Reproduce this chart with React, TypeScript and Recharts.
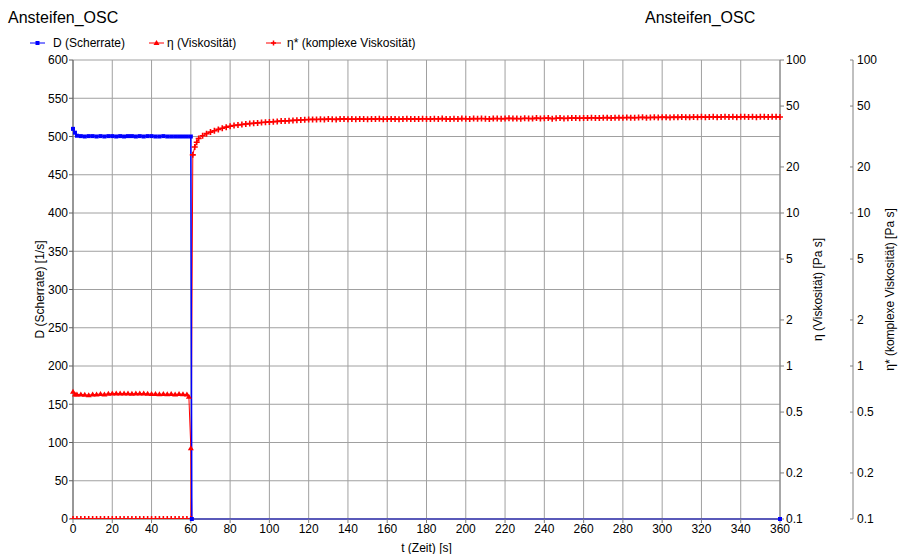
import { ComposedChart, Line, XAxis, YAxis, CartesianGrid } from 'recharts';

const FONT = '"Liberation Sans", Arial, sans-serif';

// D (Scherrate) [1/s]
const scherrateTime = [
  0, 1, 2, 4, 6, 8, 10, 12, 14, 16,
  18, 20, 22, 24, 26, 28, 30, 32, 34, 36,
  38, 40, 42, 44, 46, 48, 50, 52, 54, 56,
  58, 60, 60.5, 360,
];
const scherrate = [
  510, 505, 501, 500.5, 500, 500.5, 500.5, 500, 500.5, 500,
  500.5, 500.5, 500, 500.5, 500, 500.5, 500.5, 500, 500.5, 500,
  500.5, 500.5, 500, 500, 500.5, 500, 500, 500, 500, 500,
  500, 500, 0, 0,
];

// η (Viskosität) [Pa s]
const viskTime = [
  0, 1, 2, 4, 6, 8, 10, 12, 14, 16,
  18, 20, 22, 24, 26, 28, 30, 32, 34, 36,
  38, 40, 42, 44, 46, 48, 50, 52, 54, 56,
  58, 59, 60, 60.5,
];
const visk = [
  0.68, 0.65, 0.65, 0.652, 0.648, 0.645, 0.65, 0.652, 0.655, 0.652,
  0.658, 0.66, 0.662, 0.66, 0.662, 0.66, 0.658, 0.66, 0.662, 0.66,
  0.658, 0.655, 0.655, 0.653, 0.655, 0.653, 0.655, 0.652, 0.655, 0.653,
  0.65, 0.63, 0.29, 0.1,
];

// η* (komplexe Viskosität) [Pa s]
const komplexTime = [
  0, 2, 4, 6, 8, 10, 12, 14, 16, 18,
  20, 22, 24, 26, 28, 30, 32, 34, 36, 38,
  40, 42, 44, 46, 48, 50, 52, 54, 56, 58,
  60, 61, 62, 63, 64,
  66, 68, 70, 72, 74, 76, 78, 80, 82, 84,
  86, 88, 90, 92, 94, 96, 98, 100, 102, 104,
  106, 108, 110, 112, 114, 116, 118, 120, 122, 124,
  126, 128, 130, 132, 134, 136, 138, 140, 142, 144,
  146, 148, 150, 152, 154, 156, 158, 160, 162, 164,
  166, 168, 170, 172, 174, 176, 178, 180, 182, 184,
  186, 188, 190, 192, 194, 196, 198, 200, 202, 204,
  206, 208, 210, 212, 214, 216, 218, 220, 222, 224,
  226, 228, 230, 232, 234, 236, 238, 240, 242, 244,
  246, 248, 250, 252, 254, 256, 258, 260, 262, 264,
  266, 268, 270, 272, 274, 276, 278, 280, 282, 284,
  286, 288, 290, 292, 294, 296, 298, 300, 302, 304,
  306, 308, 310, 312, 314, 316, 318, 320, 322, 324,
  326, 328, 330, 332, 334, 336, 338, 340, 342, 344,
  346, 348, 350, 352, 354, 356, 358, 360,
];
const komplex = [
  0.1, 0.1, 0.1, 0.1, 0.1, 0.1, 0.1, 0.1, 0.1, 0.1,
  0.1, 0.1, 0.1, 0.1, 0.1, 0.1, 0.1, 0.1, 0.1, 0.1,
  0.1, 0.1, 0.1, 0.1, 0.1, 0.1, 0.1, 0.1, 0.1, 0.1,
  0.1, 24, 27, 29, 30.7,
  32.0, 33.0, 33.8, 34.5, 35.2, 35.8, 36.4, 36.9, 37.3, 37.6,
  37.9, 38.2, 38.4, 38.6, 38.8, 39.0, 39.2, 39.4, 39.5, 39.7,
  39.9, 40.0, 40.1, 40.3, 40.4, 40.5, 40.7, 40.8, 40.9, 40.8,
  41.0, 40.9, 41.1, 41.0, 40.9, 41.1, 41.2, 41.0, 41.1, 41.0,
  41.2, 41.1, 41.0, 41.2, 41.1, 41.3, 41.0, 41.1, 41.2, 41.1,
  41.0, 41.2, 41.3, 41.1, 41.2, 41.1, 41.3, 41.2, 41.1, 41.3,
  41.2, 41.4, 41.2, 41.1, 41.3, 41.2, 41.4, 41.3, 41.2, 41.4,
  41.3, 41.5, 41.3, 41.2, 41.4, 41.5, 41.3, 41.4, 41.6, 41.4,
  41.5, 41.3, 41.6, 41.5, 41.4, 41.7, 41.5, 41.6, 41.8, 41.3,
  41.6, 41.7, 41.5, 41.6, 41.8, 41.7, 41.6, 41.8, 41.7, 41.9,
  41.8, 41.7, 41.9, 42.0, 41.8, 41.9, 42.0, 41.9, 42.1, 42.0,
  41.9, 42.1, 42.2, 42.0, 42.1, 42.2, 42.1, 42.3, 42.2, 42.1,
  42.3, 42.2, 42.4, 42.3, 42.2, 42.4, 42.3, 42.5, 42.3, 42.4,
  42.5, 42.3, 42.4, 42.6, 42.4, 42.5, 42.3, 42.5, 42.6, 42.4,
  42.5, 42.3, 42.6, 42.5, 42.4, 42.6, 42.5, 42.4,
];

const timeTicks = [0, 20, 40, 60, 80, 100, 120, 140, 160, 180, 200, 220, 240, 260, 280, 300, 320, 340, 360];
const rateTicks = [0, 50, 100, 150, 200, 250, 300, 350, 400, 450, 500, 550, 600];
const logTicks = [0.1, 0.2, 0.5, 1, 2, 5, 10, 20, 50, 100];

const scherrateData = scherrateTime.map((t, i) => ({ t, v: scherrate[i] }));
const viskData = viskTime.map((t, i) => ({ t, v: visk[i] }));
const komplexData = komplexTime.map((t, i) => ({ t, v: komplex[i] }));

const BLUE = '#0000ff';
const RED = '#ff0000';
const AXIS = '#808080';
const tickStyle = { fill: '#000', fontSize: 12, fontFamily: FONT };

const SquareDot = (props: any) => {
  const { cx, cy, index } = props;
  if (cx == null || cy == null) return <g key={`s${index}`} />;
  return <rect key={`s${index}`} x={cx - 2} y={cy - 2} width={4} height={4} fill={BLUE} />;
};

const TriangleDot = (props: any) => {
  const { cx, cy, index } = props;
  if (cx == null || cy == null) return <g key={`t${index}`} />;
  return (
    <polygon
      key={`t${index}`}
      points={`${cx},${cy - 3} ${cx - 3},${cy + 2} ${cx + 3},${cy + 2}`}
      fill={RED}
    />
  );
};

const PlusDot = (props: any) => {
  const { cx, cy, index } = props;
  if (cx == null || cy == null) return <g key={`p${index}`} />;
  return (
    <path
      key={`p${index}`}
      d={`M${cx - 3},${cy}H${cx + 3}M${cx},${cy - 3}V${cy + 3}`}
      stroke={RED}
      strokeWidth={1.6}
    />
  );
};

// third axis: tick mark on the left of the axis line, label on the right
const LeftTick = (props: any) => {
  const { x, y, payload } = props;
  return (
    <g>
      <line x1={x - 7} x2={x - 4} y1={y} y2={y} stroke={AXIS} />
      <text x={x} y={y} dy="0.355em" textAnchor="start" {...tickStyle}>
        {payload.value}
      </text>
    </g>
  );
};

const LegendMarker = ({ x, kind }: { x: number; kind: string }) => {
  const color = kind === 'square' ? BLUE : RED;
  return (
    <g>
      <line x1={x} x2={x + 15} y1={43} y2={43} stroke={color} />
      {kind === 'square' && <rect x={x + 5.5} y={41} width={4} height={4} fill={BLUE} />}
      {kind === 'triangle' && (
        <polygon points={`${x + 7.5},${40} ${x + 4.5},${45} ${x + 10.5},${45}`} fill={RED} />
      )}
      {kind === 'plus' && (
        <path d={`M${x + 5},43H${x + 10}M${x + 7.5},40.5V45.5`} stroke={RED} strokeWidth={1.5} />
      )}
    </g>
  );
};

const App = () => {
  return (
    <div style={{ position: 'absolute', left: 0, top: 0, width: 913, height: 554, background: '#fff' }}>
      <svg
        width={913}
        height={60}
        style={{ position: 'absolute', left: 0, top: 0, pointerEvents: 'none' }}
        fontFamily={FONT}
      >
        <text x={8} y={23} fontSize={16} fill="#000">Ansteifen_OSC</text>
        <text x={645} y={23} fontSize={16} fill="#000">Ansteifen_OSC</text>
        <LegendMarker x={30} kind="square" />
        <text x={53} y={47} fontSize={12} fill="#000">D (Scherrate)</text>
        <LegendMarker x={149} kind="triangle" />
        <text x={167} y={47} fontSize={12} fill="#000">η (Viskosität)</text>
        <LegendMarker x={266} kind="plus" />
        <text x={287} y={47} fontSize={12} fill="#000">η* (komplexe Viskosität)</text>
      </svg>
      <ComposedChart width={913} height={554} margin={{ top: 60, right: 0, bottom: 0, left: 0 }}>
        <CartesianGrid stroke="#a0a0a0" yAxisId="rate" />
        <XAxis
          dataKey="t"
          type="number"
          domain={[0, 360]}
          ticks={timeTicks}
          height={35}
          stroke={AXIS}
          tickSize={4}
          tickMargin={1}
          tick={tickStyle}
          label={{ value: 't (Zeit) [s]', position: 'insideBottom', offset: 2, fill: '#000', fontSize: 12, fontFamily: FONT }}
        />
        <YAxis
          yAxisId="rate"
          domain={[0, 600]}
          ticks={rateTicks}
          width={73}
          stroke="#606060"
          tickSize={4}
          tickMargin={1}
          tick={tickStyle}
          label={{ value: 'D (Scherrate) [1/s]', angle: -90, position: 'center', dx: 3.5, fill: '#000', fontSize: 12, fontFamily: FONT }}
        />
        <YAxis
          yAxisId="eta"
          orientation="right"
          scale="log"
          domain={[0.1, 100]}
          allowDataOverflow
          ticks={logTicks}
          width={73}
          stroke={AXIS}
          tickSize={4}
          tickMargin={2}
          tick={tickStyle}
          label={{ value: 'η (Viskosität) [Pa s]', angle: -90, position: 'center', dx: 1.5, fill: '#000', fontSize: 12, fontFamily: FONT }}
        />
        <YAxis
          yAxisId="etaStar"
          orientation="right"
          scale="log"
          domain={[0.1, 100]}
          allowDataOverflow
          ticks={logTicks}
          width={60}
          stroke={AXIS}
          tickSize={2}
          tickMargin={2}
          tickLine={false}
          tick={<LeftTick />}
          label={{ value: 'η* (komplexe Viskosität) [Pa s]', angle: -90, position: 'center', dx: 7, fill: '#000', fontSize: 12, fontFamily: FONT }}
        />
        <Line
          data={komplexData}
          dataKey="v"
          yAxisId="etaStar"
          stroke={RED}
          strokeWidth={1}
          dot={PlusDot}
          isAnimationActive={false}
        />
        <Line
          data={viskData}
          dataKey="v"
          yAxisId="eta"
          stroke={RED}
          strokeWidth={1}
          dot={TriangleDot}
          isAnimationActive={false}
        />
        <Line
          data={scherrateData}
          dataKey="v"
          yAxisId="rate"
          stroke={BLUE}
          strokeWidth={1.5}
          dot={SquareDot}
          isAnimationActive={false}
        />
      </ComposedChart>
    </div>
  );
};

export default App;
